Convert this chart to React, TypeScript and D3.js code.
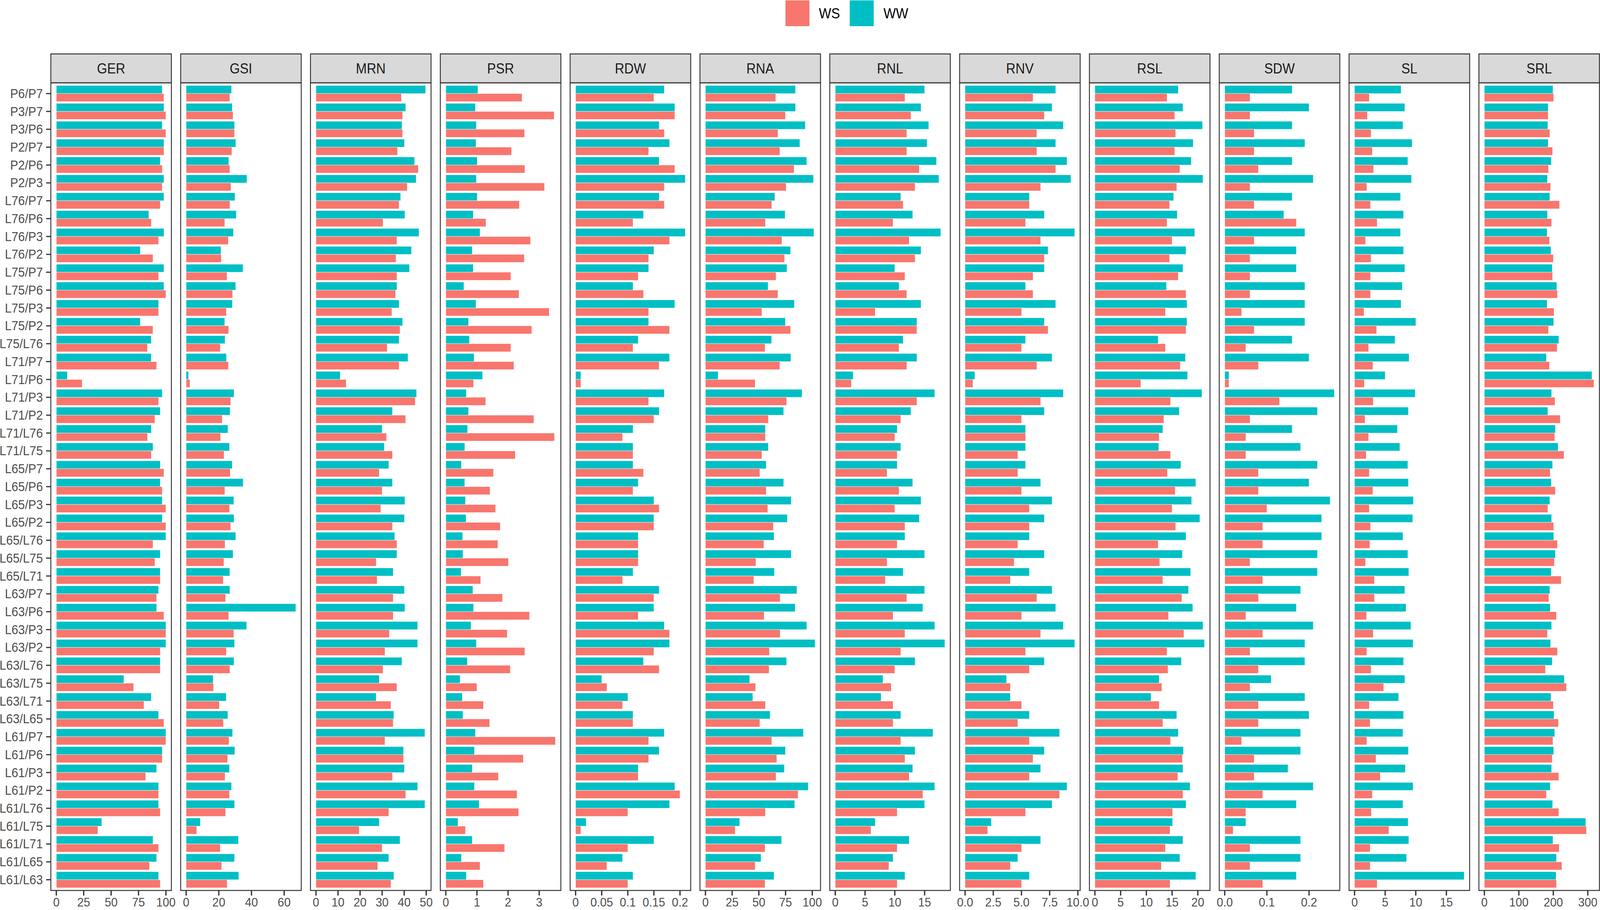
import * as d3 from "d3";

const categories = [
  "P6/P7", "P3/P7", "P3/P6", "P2/P7", "P2/P6", "P2/P3",
  "L76/P7", "L76/P6", "L76/P3", "L76/P2",
  "L75/P7", "L75/P6", "L75/P3", "L75/P2", "L75/L76",
  "L71/P7", "L71/P6", "L71/P3", "L71/P2", "L71/L76", "L71/L75",
  "L65/P7", "L65/P6", "L65/P3", "L65/P2", "L65/L76", "L65/L75", "L65/L71",
  "L63/P7", "L63/P6", "L63/P3", "L63/P2", "L63/L76", "L63/L75", "L63/L71", "L63/L65",
  "L61/P7", "L61/P6", "L61/P3", "L61/P2", "L61/L76", "L61/L75", "L61/L71", "L61/L65", "L61/L63",
];

const gerWW = [96.6, 98.2, 96.6, 98.2, 94.8, 98.2, 98.2, 84.4, 98.2, 76.6, 98.2, 98.2, 93.3, 76.6, 86.6, 86.6, 10, 96.6, 94.8, 86.6, 88.2, 94.8, 94.8, 96.6, 96.6, 100, 94.8, 94.8, 93.3, 91.5, 100, 100, 94.8, 61.6, 86.6, 93.3, 100, 96.6, 91.5, 93.3, 93.3, 41.4, 88.2, 91.5, 93.3];
const gerWS = [98.2, 100, 100, 98.2, 96.6, 96.6, 94.8, 86.6, 93.3, 88.2, 93.3, 100, 93.3, 88.2, 83.2, 91.5, 23.5, 93.3, 89.9, 83.2, 86.6, 98.2, 96.6, 100, 100, 88.2, 89.9, 94.8, 91.5, 98.2, 100, 94.8, 94.8, 70.5, 79.9, 98.2, 100, 96.6, 81.5, 93.3, 94.8, 37.9, 93.3, 85, 94.8];

const gsiWW = [27.8, 28.2, 29.6, 30.4, 26.1, 37.2, 29.9, 30.7, 28.9, 21.3, 34.8, 30.3, 28.3, 23.6, 23.8, 24.7, 1.5, 29.3, 26.9, 25.6, 26.5, 28.2, 34.9, 29.2, 29.3, 30.4, 28.7, 26.7, 26.8, 67.1, 37, 29.6, 29.3, 16.5, 24.5, 25.5, 28.4, 29.8, 26.5, 27.8, 29.6, 8.7, 32, 29.6, 32.2];
const gsiWS = [26.7, 28.7, 29.6, 28, 26.7, 27.4, 26.8, 23.6, 25.8, 21.5, 25, 28.4, 24.6, 26, 20.9, 25.9, 2.3, 27.3, 22.1, 21.1, 23.2, 27, 23.7, 26.6, 27.2, 23.8, 23.1, 22.7, 24.1, 26, 29.2, 24.6, 26.8, 16.8, 20.3, 22.8, 26.2, 25.4, 23.8, 26.5, 24.1, 6.4, 20.9, 21.7, 25.1];

const mrnWW = [49.7, 40.7, 39, 40.1, 44.7, 45.4, 38.4, 40.3, 46.7, 43.3, 42.4, 36.7, 37.7, 39.3, 37.7, 41.7, 11, 45.6, 34.7, 30, 31, 33, 34.7, 40.3, 40.1, 35.7, 36.7, 35, 40.1, 40.3, 46.1, 46.1, 39, 28.7, 27.3, 35.3, 49.4, 39.7, 40.1, 46.1, 49.4, 28.7, 38.1, 33, 35.3];
const mrnWS = [38.7, 39.3, 39.3, 37, 46.4, 41.4, 37.7, 30.4, 36.7, 36.3, 36.7, 36.1, 34.4, 38.1, 32.3, 37.7, 13.7, 45, 40.7, 32, 34.7, 28.7, 30, 29.4, 34.7, 36.7, 27.3, 27.7, 35, 35, 33.3, 31.3, 30.4, 36.7, 34, 35, 31.3, 39.7, 34.7, 40.7, 33, 19.6, 30, 28, 34];

const psrWW = [1.03, 0.95, 0.98, 0.97, 1.01, 0.98, 1.01, 0.88, 1.1, 0.85, 0.88, 0.58, 0.97, 0.73, 0.76, 0.91, 1.18, 0.66, 0.73, 0.7, 0.61, 0.5, 0.61, 0.63, 0.65, 0.54, 0.55, 0.49, 0.87, 0.89, 0.81, 0.98, 0.69, 0.46, 0.53, 0.55, 0.95, 0.92, 0.85, 0.92, 1.07, 0.39, 0.85, 0.5, 0.66];
const psrWS = [2.45, 3.48, 2.53, 2.11, 2.54, 3.17, 2.36, 1.29, 2.72, 2.52, 2.09, 2.35, 3.32, 2.76, 2.09, 2.19, 0.89, 1.28, 2.83, 3.49, 2.23, 1.53, 1.42, 1.6, 1.75, 1.67, 2.01, 1.12, 1.82, 2.69, 1.97, 2.54, 2.07, 1.0, 1.21, 1.41, 3.52, 2.49, 1.69, 2.29, 2.34, 0.63, 1.89, 1.1, 1.21];

const rdwWW = [0.17, 0.19, 0.16, 0.18, 0.16, 0.21, 0.16, 0.13, 0.21, 0.15, 0.14, 0.11, 0.19, 0.14, 0.12, 0.18, 0.01, 0.17, 0.16, 0.11, 0.11, 0.11, 0.12, 0.15, 0.15, 0.12, 0.12, 0.11, 0.16, 0.15, 0.17, 0.18, 0.13, 0.05, 0.1, 0.11, 0.17, 0.16, 0.12, 0.19, 0.18, 0.02, 0.15, 0.09, 0.11];
const rdwWS = [0.15, 0.19, 0.17, 0.14, 0.19, 0.17, 0.17, 0.11, 0.18, 0.14, 0.12, 0.13, 0.14, 0.18, 0.11, 0.16, 0.01, 0.14, 0.15, 0.09, 0.11, 0.13, 0.11, 0.16, 0.15, 0.12, 0.12, 0.09, 0.15, 0.12, 0.18, 0.15, 0.16, 0.06, 0.09, 0.11, 0.14, 0.14, 0.12, 0.2, 0.1, 0.01, 0.1, 0.06, 0.1];

const rnaWW = [84.3, 84.3, 93.4, 88.4, 94.8, 101.2, 65, 74.6, 101.5, 79.7, 76.3, 58.6, 83.2, 74.9, 61.9, 80, 11.8, 90.4, 73.2, 56.1, 58.9, 56.9, 73.2, 80.3, 76.6, 64.2, 80.3, 64.5, 85.6, 83.9, 94.8, 102.6, 76, 41.4, 44.3, 60.6, 91.7, 74.9, 73.9, 96.2, 83.5, 32.1, 71.3, 52, 64.2];
const rnaWS = [65.8, 74.9, 67.9, 69.6, 83, 75.5, 62.1, 56.1, 71.6, 74, 66.1, 67.9, 52.8, 79.7, 55.8, 69.6, 46.5, 76, 58.9, 56.1, 52.8, 50.9, 56.9, 58.3, 63.6, 54.6, 47.2, 45.3, 69.9, 54.9, 69.9, 59.9, 59.6, 46.9, 56.1, 50.9, 62.1, 66.8, 66.1, 86.7, 56.1, 27.8, 55.8, 46.5, 55.8];

const rnlWW = [15.0, 14.4, 15.7, 15.4, 17.0, 17.4, 11.0, 13.0, 17.7, 14.4, 10.0, 10.7, 14.4, 13.7, 11.4, 13.7, 3.0, 16.7, 12.7, 10.4, 11.0, 10.4, 13.0, 14.4, 14.1, 11.7, 15.0, 11.4, 15.0, 14.7, 16.7, 18.4, 13.4, 8.0, 7.7, 11.0, 16.4, 13.4, 13.0, 16.7, 15.0, 6.7, 12.4, 9.7, 11.7];
const rnlWS = [11.7, 12.7, 12.0, 12.0, 14.1, 13.4, 11.4, 9.7, 12.4, 13.4, 11.7, 12.0, 6.7, 13.7, 10.7, 12.0, 2.7, 13.7, 11.0, 10.0, 10.4, 8.7, 10.7, 10.0, 11.7, 10.4, 8.7, 8.4, 12.0, 9.7, 11.7, 11.0, 10.0, 9.4, 9.7, 9.7, 11.0, 11.7, 12.4, 14.7, 10.4, 6.0, 10.4, 9.0, 10.4];

const rnvWW = [8.04, 7.71, 8.71, 8.04, 9.04, 9.38, 5.7, 7.03, 9.72, 7.36, 7.03, 5.36, 8.04, 7.03, 5.36, 7.71, 0.86, 8.71, 7.03, 5.36, 5.36, 5.36, 6.7, 7.71, 7.03, 5.7, 7.03, 5.7, 7.71, 8.04, 8.71, 9.72, 7.03, 3.68, 4.01, 5.7, 8.38, 7.03, 6.7, 9.04, 7.71, 2.33, 6.7, 4.68, 5.7];
const rnvWS = [6.03, 7.03, 6.36, 6.36, 8.04, 6.7, 5.7, 5.36, 6.7, 7.03, 6.03, 6.03, 5.01, 7.36, 5.01, 6.36, 0.7, 6.7, 5.01, 5.36, 4.68, 4.68, 5.01, 5.7, 5.7, 4.68, 4.35, 4.01, 6.36, 5.01, 6.7, 5.36, 5.7, 4.01, 5.01, 4.68, 5.7, 6.03, 5.7, 8.38, 5.36, 2.0, 5.01, 4.01, 5.01];

const rslWW = [16.2, 17.1, 20.9, 19.1, 18.7, 21.0, 15.3, 16.0, 19.4, 17.7, 17.1, 13.9, 17.9, 17.9, 12.3, 17.6, 18.0, 20.8, 16.4, 13.2, 12.4, 16.7, 19.6, 18.8, 20.4, 17.7, 17.0, 18.6, 18.2, 19.0, 21.0, 21.3, 16.8, 12.5, 10.9, 15.9, 16.2, 17.2, 17.1, 18.5, 17.7, 15.1, 17.1, 16.5, 19.6];
const rslWS = [14.0, 15.5, 15.7, 15.5, 16.5, 15.9, 14.5, 14.0, 15.0, 14.5, 16.2, 17.7, 13.7, 17.7, 13.7, 16.6, 8.9, 14.7, 13.4, 12.5, 14.7, 14.1, 15.6, 15.0, 15.7, 12.3, 12.6, 13.2, 16.9, 14.3, 17.3, 14.0, 14.2, 13.0, 12.5, 13.2, 14.7, 17.0, 16.1, 17.1, 15.1, 14.6, 13.7, 12.9, 14.6];

const sdwWW = [0.16, 0.2, 0.16, 0.19, 0.16, 0.21, 0.16, 0.14, 0.19, 0.17, 0.17, 0.19, 0.19, 0.19, 0.16, 0.2, 0.01, 0.26, 0.22, 0.16, 0.18, 0.22, 0.2, 0.25, 0.23, 0.23, 0.22, 0.22, 0.18, 0.17, 0.21, 0.19, 0.19, 0.11, 0.19, 0.2, 0.18, 0.18, 0.15, 0.21, 0.17, 0.05, 0.18, 0.18, 0.17];
const sdwWS = [0.06, 0.06, 0.07, 0.07, 0.08, 0.06, 0.07, 0.17, 0.07, 0.06, 0.06, 0.06, 0.04, 0.07, 0.05, 0.08, 0.01, 0.13, 0.06, 0.05, 0.05, 0.08, 0.08, 0.1, 0.09, 0.09, 0.06, 0.09, 0.08, 0.05, 0.09, 0.06, 0.08, 0.06, 0.08, 0.08, 0.04, 0.07, 0.07, 0.09, 0.05, 0.02, 0.06, 0.06, 0.09];

const slWW = [7.6, 8.2, 7.9, 9.4, 8.7, 9.3, 7.5, 8.0, 7.5, 8.0, 8.2, 7.8, 7.6, 10.0, 6.6, 8.9, 5.0, 9.9, 8.8, 7.0, 7.4, 8.7, 8.8, 9.6, 9.5, 7.9, 8.7, 8.85, 8.2, 8.4, 9.2, 9.55, 8.0, 8.2, 7.2, 8.0, 7.9, 8.8, 8.3, 9.55, 7.9, 8.75, 8.85, 8.5, 17.9];
const slWS = [2.4, 2.1, 2.7, 2.9, 3.1, 2.0, 2.6, 3.7, 1.8, 2.7, 2.6, 2.6, 1.55, 3.6, 2.3, 3.0, 1.6, 3.05, 1.7, 2.3, 1.9, 2.4, 3.0, 2.4, 2.6, 2.5, 1.8, 3.25, 3.25, 1.95, 3.05, 2.0, 2.7, 4.75, 2.4, 2.55, 2.0, 3.5, 4.2, 2.9, 2.75, 5.6, 2.55, 2.55, 3.7];

const srlWW = [199, 185, 184, 185, 194, 183, 190, 183, 182, 193, 197, 210, 182, 201, 216, 180, 312, 195, 184, 206, 214, 198, 194, 190, 195, 201, 206, 194, 190, 191, 195, 192, 197, 232, 193, 202, 204, 201, 195, 191, 198, 294, 199, 209, 208];
const srlWS = [201, 185, 190, 198, 186, 192, 218, 195, 189, 200, 198, 212, 202, 186, 211, 189, 318, 205, 220, 204, 231, 191, 206, 184, 201, 212, 203, 223, 187, 209, 183, 212, 177, 238, 200, 215, 199, 197, 216, 180, 216, 296, 217, 225, 209];

// tick values and their labels, per facet
const gerTicks = [0, 25, 50, 75, 100];
const gsiTicks = [0, 20, 40, 60];
const mrnTicks = [0, 10, 20, 30, 40, 50];
const psrTicks = [0, 1, 2, 3];
const rdwTicks = [0, 0.05, 0.1, 0.15, 0.2];
const rdwLabels = ["0", "0.05", "0.1", "0.15", "0.2"];
const rnaTicks = [0, 25, 50, 75, 100];
const rnlTicks = [0, 5, 10, 15];
const rnvTicks = [0, 2.5, 5, 7.5, 10];
const rnvLabels = ["0.0", "2.5", "5.0", "7.5", "10.0"];
const rslTicks = [0, 5, 10, 15, 20];
const sdwTicks = [0, 0.1, 0.2];
const sdwLabels = ["0.0", "0.1", "0.2"];
const slTicks = [0, 5, 10, 15];
const srlTicks = [0, 100, 200, 300];

const facets = [
  { name: "GER", ws: gerWS, ww: gerWW, ticks: gerTicks },
  { name: "GSI", ws: gsiWS, ww: gsiWW, ticks: gsiTicks },
  { name: "MRN", ws: mrnWS, ww: mrnWW, ticks: mrnTicks },
  { name: "PSR", ws: psrWS, ww: psrWW, ticks: psrTicks },
  { name: "RDW", ws: rdwWS, ww: rdwWW, ticks: rdwTicks, labels: rdwLabels },
  { name: "RNA", ws: rnaWS, ww: rnaWW, ticks: rnaTicks },
  { name: "RNL", ws: rnlWS, ww: rnlWW, ticks: rnlTicks },
  { name: "RNV", ws: rnvWS, ww: rnvWW, ticks: rnvTicks, labels: rnvLabels },
  { name: "RSL", ws: rslWS, ww: rslWW, ticks: rslTicks },
  { name: "SDW", ws: sdwWS, ww: sdwWW, ticks: sdwTicks, labels: sdwLabels },
  { name: "SL", ws: slWS, ww: slWW, ticks: slTicks },
  { name: "SRL", ws: srlWS, ww: srlWW, ticks: srlTicks },
];

const colors: Record<string, string> = { WS: "#F8766D", WW: "#00BFC4" };

const W = 4406;
const H = 2329;
const FONT = "'Liberation Sans', Arial, Helvetica, sans-serif";

// layout
const panelLeft0 = 140;
const panelStep = 357.5;
const panelWidth = 332;
const stripTop = 138;
const stripBottom = 212;
const plotBottom = 2279;
const border = "#333333";

export default function App() {
  const y = d3
    .scaleBand<string>()
    .domain(categories)
    .range([stripBottom, plotBottom])
    .paddingInner(0)
    .paddingOuter(0.1);
  const step = y.step();
  const barH = step * 0.45;

  return (
    <svg
      viewBox={`0 0 ${W} ${H}`}
      preserveAspectRatio="none"
      style={{
        position: "absolute",
        left: 0,
        top: 0,
        width: "100vw",
        height: "100vh",
        display: "block",
        background: "#fff",
      }}
      fontFamily={FONT}
    >
      <rect x={0} y={0} width={W} height={H} fill="#fff" />

      {/* legend */}
      <g>
        <rect x={2163} y={1} width={66} height={66} fill={colors.WS} />
        <text x={2255} y={47} fontSize={36} fill="#000">WS</text>
        <rect x={2340} y={1} width={66} height={66} fill={colors.WW} />
        <text x={2433} y={47} fontSize={36} fill="#000">WW</text>
      </g>

      {/* y axis */}
      <g>
        {categories.map((c) => {
          const cy = (y(c) ?? 0) + step / 2;
          return (
            <g key={c}>
              <line x1={127} x2={panelLeft0} y1={cy} y2={cy} stroke={border} strokeWidth={3} />
              <text
                x={118}
                y={cy}
                fontSize={33}
                fill="#4D4D4D"
                textAnchor="end"
                dominantBaseline="central"
              >
                {c}
              </text>
            </g>
          );
        })}
      </g>

      {facets.map((f, i) => {
        const left = panelLeft0 + i * panelStep;
        const right = left + panelWidth;
        const maxV = d3.max([...f.ws, ...f.ww]) ?? 1;
        const x = d3
          .scaleLinear()
          .domain([-0.05 * maxV, 1.05 * maxV])
          .range([left, right]);
        const labels = f.labels ?? f.ticks.map((t) => String(t));
        return (
          <g key={f.name}>
            {/* strip */}
            <rect
              x={left}
              y={stripTop}
              width={panelWidth}
              height={stripBottom - stripTop}
              fill="#D9D9D9"
              stroke={border}
              strokeWidth={2.5}
            />
            <text
              x={(left + right) / 2}
              y={188}
              fontSize={36}
              fill="#1A1A1A"
              textAnchor="middle"
            >
              {f.name}
            </text>

            {/* bars */}
            {categories.map((c, k) => {
              const cy = (y(c) ?? 0) + step / 2;
              return (
                <g key={c}>
                  <rect
                    x={x(0)}
                    y={cy - barH}
                    width={x(f.ww[k]) - x(0)}
                    height={barH}
                    fill={colors.WW}
                    stroke="#ffffff"
                    strokeWidth={0.8}
                  />
                  <rect
                    x={x(0)}
                    y={cy}
                    width={x(f.ws[k]) - x(0)}
                    height={barH}
                    fill={colors.WS}
                    stroke="#ffffff"
                    strokeWidth={0.8}
                  />
                </g>
              );
            })}

            {/* panel border */}
            <rect
              x={left}
              y={stripBottom}
              width={panelWidth}
              height={plotBottom - stripBottom}
              fill="none"
              stroke={border}
              strokeWidth={2.5}
            />

            {/* x axis */}
            {f.ticks.map((t, j) => (
              <g key={t}>
                <line
                  x1={x(t)}
                  x2={x(t)}
                  y1={plotBottom}
                  y2={plotBottom + 13}
                  stroke={border}
                  strokeWidth={3.5}
                />
                <text
                  x={x(t)}
                  y={2320}
                  fontSize={32}
                  fill="#4D4D4D"
                  textAnchor="middle"
                >
                  {labels[j]}
                </text>
              </g>
            ))}
          </g>
        );
      })}
    </svg>
  );
}
